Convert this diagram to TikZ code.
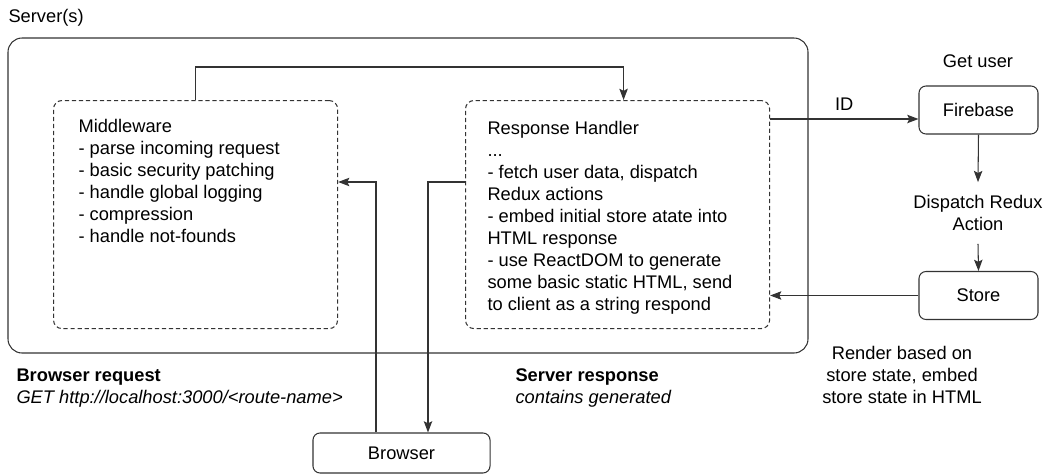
\documentclass[tikz,border=0pt]{standalone}
\usepackage{fontspec}
\setmainfont{Liberation Sans}
\usetikzlibrary{arrows.meta,positioning,calc}

\definecolor{linegray}{RGB}{51,51,51}

\begin{document}
\begin{tikzpicture}[x=0.025cm, y=-0.025cm, line width=0.75pt, draw=linegray,
    font=\fontsize{13}{15.6}\selectfont,
    >={Stealth[length=8pt, width=6pt, inset=1.5pt]},
    solidbox/.style={draw=linegray, rounded corners=5pt, minimum width=2.975cm, minimum height=1.2cm, inner sep=0pt},
    dashbox/.style={draw=linegray, rounded corners=6pt, dash pattern=on 3pt off 2pt, minimum height=5.7cm, inner sep=0pt, anchor=north west},
    listtext/.style={align=left, anchor=north west, inner sep=0pt}]
    \useasboundingbox (0,0) rectangle (1047,474);

    % Server(s) frame
    \node[anchor=west, inner sep=0pt] (srvlbl) at (8,18) {Server(s)};
    \draw[rounded corners=10pt] (8,38) rectangle (808,353);

    % Middleware and response handler
    \node[dashbox, minimum width=7.1cm] (mw) at (53,100) {};
    \node[listtext] (mwtext) at (78,119) {Middleware\\- parse incoming request\\- basic security patching\\- handle global logging\\- compression\\- handle not-founds};
    \node[dashbox, minimum width=7.6cm] (rh) at (465,100) {};
    \node[listtext] (rhtext) at (487,121) {Response Handler\\...\\- fetch user data, dispatch\\Redux actions\\- embed initial store atate into\\HTML response\\- use ReactDOM to generate\\some basic static HTML, send\\to client as a string respond};

    % Outside services
    \node[solidbox] (fb) at (978.5,110) {Firebase};
    \node (getuser) at (978,61) {Get user};
    \node[align=center, inner xsep=0pt, inner ysep=9pt] (dispatch) at (978,213) {Dispatch Redux\\Action};
    \node[solidbox] (st) at (978.5,295.5) {Store};
    \node[align=center] (render) at (902,375) {Render based on\\store state, embed\\store state in HTML};

    % Browser
    \node[solidbox, minimum width=4.425cm, minimum height=1cm] (br) at (401.5,453) {Browser};
    \node[listtext] (reqlbl) at (16,368) {\textbf{Browser request}\\\textit{GET http://localhost:3000/<route-name>}};
    \node[listtext] (resplbl) at (515,368) {\textbf{Server response}\\\textit{contains generated}};

    % Connectors
    \coordinate (topy) at (0,67);
    \coordinate (idy) at (0,119);
    \coordinate (req) at (376,182);
    \coordinate (resp) at (428,182);
    \draw[->] (mw.north) -- (mw.north |- topy) -| ($(rh.north)+(6,0)$);
    \draw[->] (rh.east |- idy) -- (fb.west |- idy) node[midway, above=2pt] {ID};
    \draw[->] (fb.south) -- (dispatch.north);
    \draw[->] (dispatch.south) -- (st.north);
    \draw[->] (st.west) -- (rh.east |- st.west);
    \draw[->] (br.north -| req) -- (req) -- (mw.east |- req);
    \draw[->] (rh.west |- resp) -- (resp) -- (br.north -| resp);
\end{tikzpicture}
\end{document}
